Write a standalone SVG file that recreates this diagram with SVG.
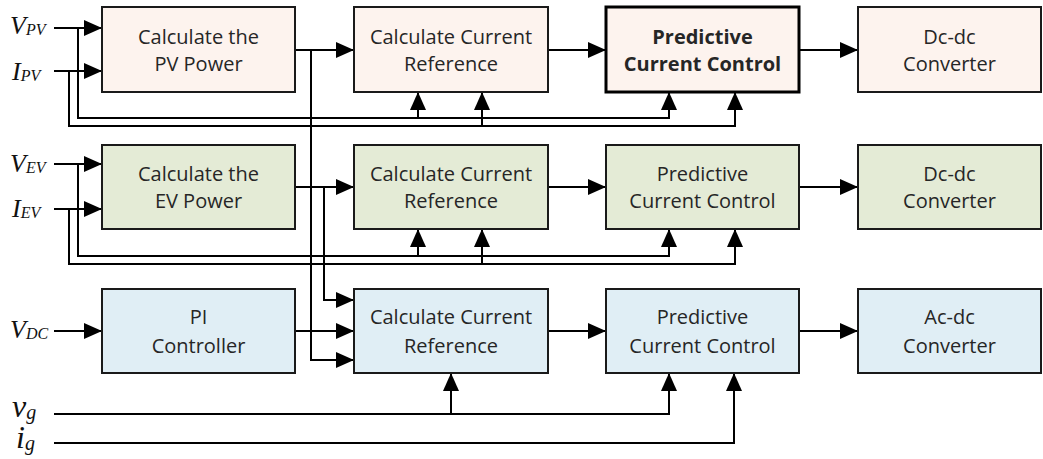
<svg xmlns="http://www.w3.org/2000/svg" width="1043" height="459" viewBox="0 0 1043 459">
  <style>
    .box { stroke: #1a1a1a; stroke-width: 2; }
    .pv { fill: #fdf3ee; }
    .ev { fill: #e4ebd6; }
    .dc { fill: #e0eef5; }
    .bold { stroke: #000; stroke-width: 3; }
    .lbl { font-family: "Open Sans", "Liberation Sans", sans-serif; font-size: 20px; fill: #262626; text-anchor: middle; }
    .lblb { font-weight: bold; }
    .sig { font-family: "Liberation Serif", serif; font-style: italic; fill: #111; }
    .wire { fill: none; stroke: #000; stroke-width: 2; }
    .arr { marker-end: url(#head); }
  </style>
  <defs>
    <marker id="head" viewBox="0 0 18 16" refX="18" refY="8" markerWidth="18" markerHeight="16" markerUnits="userSpaceOnUse" orient="auto">
      <path d="M0,0 L18,8 L0,16 Z" fill="#000"/>
    </marker>
  </defs>
  <rect width="1043" height="459" fill="#fff"/>

  <!-- input signal labels -->
  <g id="signals">
    <text class="sig" x="10" y="34" font-size="26">V<tspan font-size="16" dy="1">PV</tspan></text>
    <text class="sig" x="12" y="80" font-size="26">I<tspan font-size="16" dy="1">PV</tspan></text>
    <text class="sig" x="10" y="172" font-size="26">V<tspan font-size="16" dy="1">EV</tspan></text>
    <text class="sig" x="12" y="217" font-size="26">I<tspan font-size="16" dy="1">EV</tspan></text>
    <text class="sig" x="10" y="338" font-size="26">V<tspan font-size="16" dy="1">DC</tspan></text>
    <text class="sig" x="12" y="417" font-size="32">v<tspan font-size="20" dy="2">g</tspan></text>
    <text class="sig" x="16" y="448" font-size="32">i<tspan font-size="20" dy="2">g</tspan></text>
  </g>

  <!-- connectors -->
  <g id="connectors">
    <!-- PV row -->
    <path class="wire arr" d="M54,28 H102"/>
    <path class="wire arr" d="M54,71 H102"/>
    <path class="wire arr" d="M78,28 V118 H669 V92"/>
    <path class="wire arr" d="M418,118 V92"/>
    <path class="wire arr" d="M69,71 V126 H735 V92"/>
    <path class="wire arr" d="M482,126 V92"/>
    <path class="wire arr" d="M295,50 H354"/>
    <path class="wire arr" d="M311,50 V360 H354"/>
    <path class="wire arr" d="M548,50 H606"/>
    <path class="wire arr" d="M799,50 H858"/>
    <!-- EV row -->
    <path class="wire arr" d="M54,164 H102"/>
    <path class="wire arr" d="M54,209 H102"/>
    <path class="wire arr" d="M78,164 V256 H669 V229"/>
    <path class="wire arr" d="M418,256 V229"/>
    <path class="wire arr" d="M69,209 V264 H735 V229"/>
    <path class="wire arr" d="M482,264 V229"/>
    <path class="wire arr" d="M295,187 H354"/>
    <path class="wire arr" d="M324,187 V300 H354"/>
    <path class="wire arr" d="M548,187 H606"/>
    <path class="wire arr" d="M799,187 H858"/>
    <!-- DC row -->
    <path class="wire arr" d="M54,331 H102"/>
    <path class="wire arr" d="M295,331 H354"/>
    <path class="wire arr" d="M548,331 H606"/>
    <path class="wire arr" d="M799,331 H858"/>
    <path class="wire arr" d="M54,414 H669 V373"/>
    <path class="wire arr" d="M451,414 V373"/>
    <path class="wire arr" d="M54,443 H734 V373"/>
  </g>

  <!-- PV row -->
  <g id="pv-power">
    <rect class="box pv" x="102" y="7" width="193" height="85"/>
    <text class="lbl" x="198.5" y="44">Calculate the</text>
    <text class="lbl" x="198.5" y="71">PV Power</text>
  </g>
  <g id="pv-ref">
    <rect class="box pv" x="354" y="7" width="194" height="85"/>
    <text class="lbl" x="451" y="44">Calculate Current</text>
    <text class="lbl" x="451" y="71">Reference</text>
  </g>
  <g id="pv-pcc">
    <rect class="box pv bold" x="606" y="7" width="193" height="85"/>
    <text class="lbl lblb" x="702.5" y="44">Predictive</text>
    <text class="lbl lblb" x="702.5" y="71">Current Control</text>
  </g>
  <g id="pv-conv">
    <rect class="box pv" x="858" y="7" width="183" height="85"/>
    <text class="lbl" x="949.5" y="44">Dc-dc</text>
    <text class="lbl" x="949.5" y="71">Converter</text>
  </g>

  <!-- EV row -->
  <g id="ev-power">
    <rect class="box ev" x="102" y="145" width="193" height="84"/>
    <text class="lbl" x="198.5" y="181">Calculate the</text>
    <text class="lbl" x="198.5" y="208">EV Power</text>
  </g>
  <g id="ev-ref">
    <rect class="box ev" x="354" y="145" width="194" height="84"/>
    <text class="lbl" x="451" y="181">Calculate Current</text>
    <text class="lbl" x="451" y="208">Reference</text>
  </g>
  <g id="ev-pcc">
    <rect class="box ev" x="606" y="145" width="193" height="84"/>
    <text class="lbl" x="702.5" y="181">Predictive</text>
    <text class="lbl" x="702.5" y="208">Current Control</text>
  </g>
  <g id="ev-conv">
    <rect class="box ev" x="858" y="145" width="183" height="84"/>
    <text class="lbl" x="949.5" y="181">Dc-dc</text>
    <text class="lbl" x="949.5" y="208">Converter</text>
  </g>

  <!-- DC link / grid row -->
  <g id="pi">
    <rect class="box dc" x="102" y="289" width="193" height="84"/>
    <text class="lbl" x="198.5" y="324">PI</text>
    <text class="lbl" x="198.5" y="353">Controller</text>
  </g>
  <g id="dc-ref">
    <rect class="box dc" x="354" y="289" width="194" height="84"/>
    <text class="lbl" x="451" y="324">Calculate Current</text>
    <text class="lbl" x="451" y="353">Reference</text>
  </g>
  <g id="dc-pcc">
    <rect class="box dc" x="606" y="289" width="193" height="84"/>
    <text class="lbl" x="702.5" y="324">Predictive</text>
    <text class="lbl" x="702.5" y="353">Current Control</text>
  </g>
  <g id="dc-conv">
    <rect class="box dc" x="858" y="289" width="183" height="84"/>
    <text class="lbl" x="949.5" y="324">Ac-dc</text>
    <text class="lbl" x="949.5" y="353">Converter</text>
  </g>
</svg>
